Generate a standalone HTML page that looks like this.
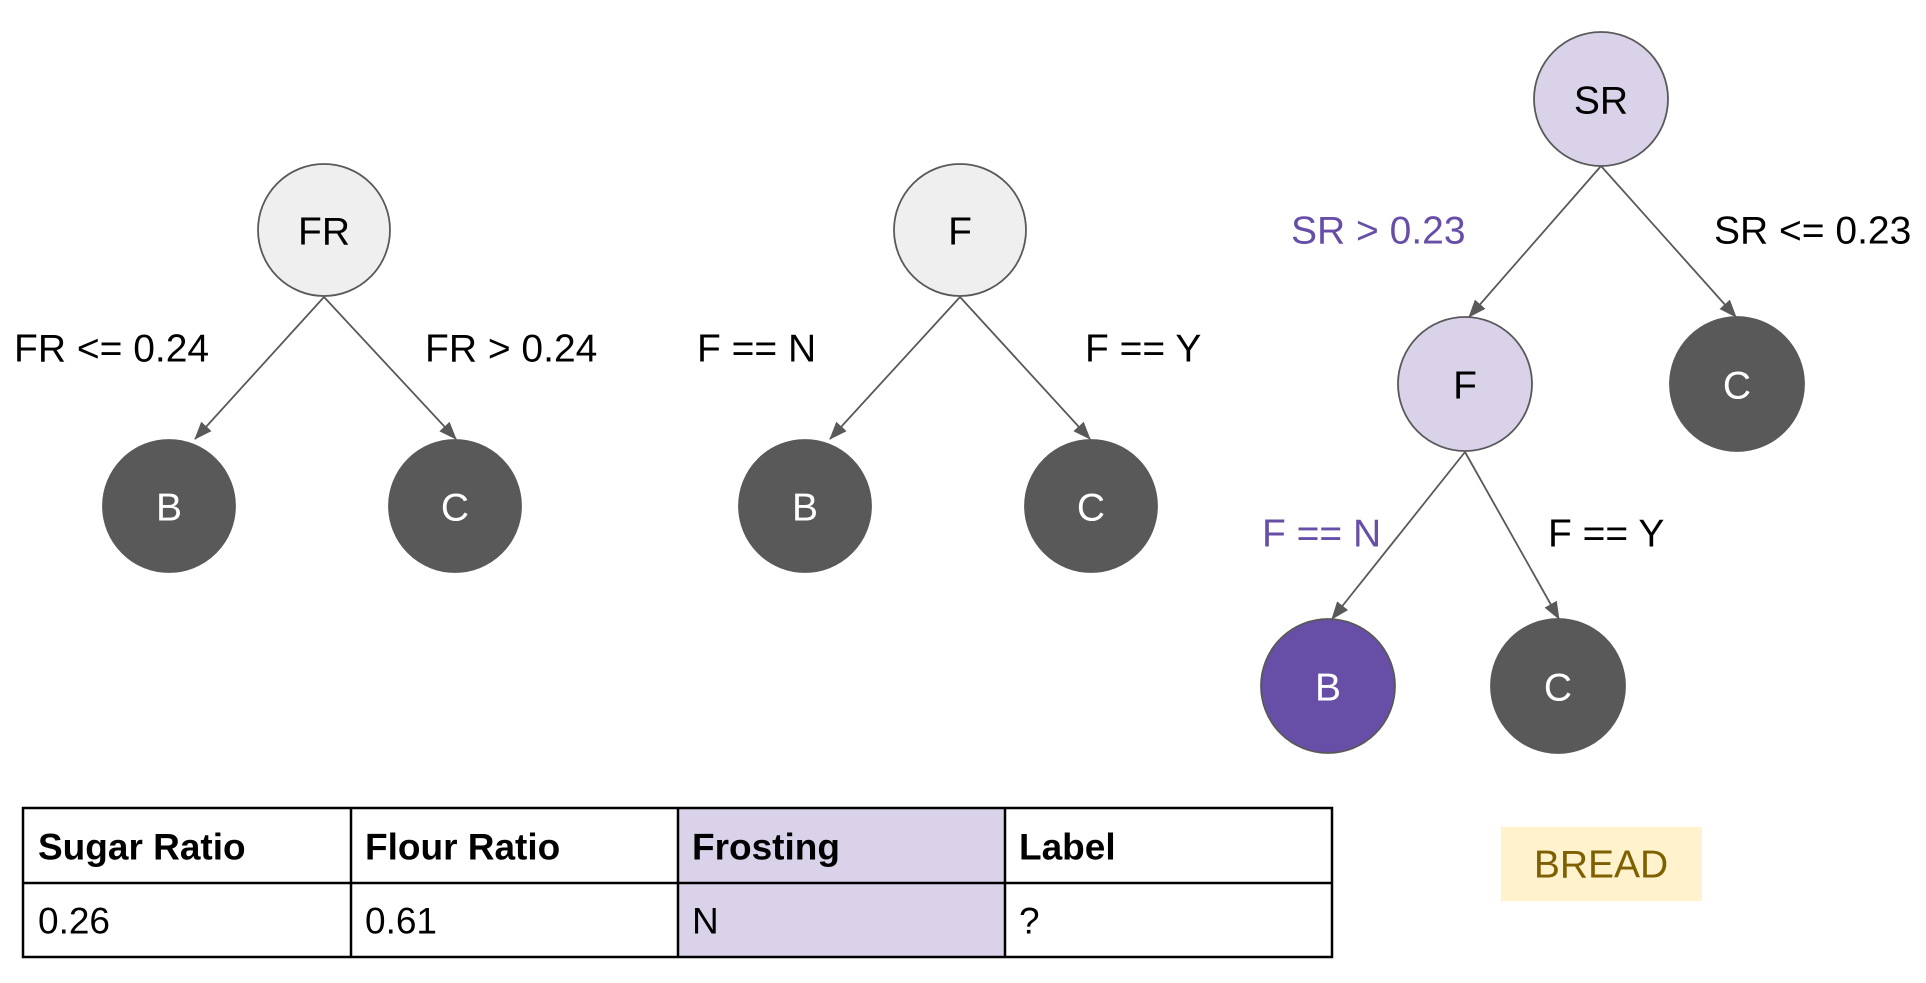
<!DOCTYPE html>
<html><head><meta charset="utf-8"><style>
body{margin:0;background:#fff;width:1926px;height:978px;overflow:hidden;font-family:"Liberation Sans",sans-serif}
</style></head><body>
<svg width="1926" height="978" viewBox="0 0 1926 978" xmlns="http://www.w3.org/2000/svg" font-family="Liberation Sans, sans-serif">
<defs>
<marker id="ah" markerWidth="18" markerHeight="14" refX="17" refY="7" orient="auto" markerUnits="userSpaceOnUse" viewBox="0 0 18 14"><path d="M0,0 L18,7 L0,14 z" fill="#595959"/></marker></defs>
<g stroke="#595959" stroke-width="1.8" marker-end="url(#ah)">
<line x1="324" y1="297" x2="195" y2="439"/><line x1="324" y1="297" x2="456" y2="439"/>
<line x1="960" y1="297" x2="830" y2="439"/><line x1="960" y1="297" x2="1090" y2="439"/>
<line x1="1601" y1="166" x2="1469" y2="317"/><line x1="1601" y1="166" x2="1736" y2="317"/>
<line x1="1465" y1="452" x2="1332" y2="619"/><line x1="1465" y1="452" x2="1559" y2="619"/>
</g>
<g stroke="#595959" stroke-width="1.8">
<circle cx="324" cy="230" r="66" fill="#efefef"/>
<circle cx="169" cy="506" r="66" fill="#595959"/>
<circle cx="455" cy="506" r="66" fill="#595959"/>
<circle cx="960" cy="230" r="66" fill="#efefef"/>
<circle cx="805" cy="506" r="66" fill="#595959"/>
<circle cx="1091" cy="506" r="66" fill="#595959"/>
<circle cx="1601" cy="99" r="67" fill="#d9d2e9"/>
<circle cx="1465" cy="384" r="67" fill="#d9d2e9"/>
<circle cx="1737" cy="384" r="67" fill="#595959"/>
<circle cx="1328" cy="686" r="67" fill="#674ea7"/>
<circle cx="1558" cy="686" r="67" fill="#595959"/>
</g>
<g font-size="39" text-anchor="middle" dominant-baseline="central">
<text x="324" y="232">FR</text><text x="169" y="508" fill="#fff">B</text><text x="455" y="508" fill="#fff">C</text>
<text x="960" y="232">F</text><text x="805" y="508" fill="#fff">B</text><text x="1091" y="508" fill="#fff">C</text>
<text x="1601" y="101">SR</text><text x="1465" y="386">F</text><text x="1737" y="386" fill="#fff">C</text>
<text x="1328" y="688" fill="#fff">B</text><text x="1558" y="688" fill="#fff">C</text>
</g>
<g font-size="39" dominant-baseline="central">
<text x="14" y="349">FR &lt;= 0.24</text>
<text x="425" y="349">FR &gt; 0.24</text>
<text x="697" y="349">F == N</text>
<text x="1085" y="349">F == Y</text>
<text x="1291" y="231" fill="#674ea7">SR &gt; 0.23</text>
<text x="1714" y="231">SR &lt;= 0.23</text>
<text x="1262" y="534" fill="#674ea7">F == N</text>
<text x="1548" y="534">F == Y</text>
</g>
<rect x="678" y="808" width="327" height="149" fill="#d9d2e9"/>
<g stroke="#000" stroke-width="2.5" fill="none">
<rect x="23" y="808" width="1309" height="149"/>
<line x1="23" y1="883" x2="1332" y2="883"/>
<line x1="351" y1="808" x2="351" y2="957"/><line x1="678" y1="808" x2="678" y2="957"/><line x1="1005" y1="808" x2="1005" y2="957"/>
</g>
<g font-size="37" dominant-baseline="central">
<g font-weight="bold"><text x="38" y="847">Sugar Ratio</text><text x="365" y="847">Flour Ratio</text><text x="692" y="847">Frosting</text><text x="1019" y="847">Label</text></g>
<text x="38" y="921">0.26</text><text x="365" y="921">0.61</text><text x="692" y="921">N</text><text x="1019" y="921">?</text>
</g>
<rect x="1501" y="827" width="201" height="74" fill="#fff2cc"/>
<text x="1601" y="865" font-size="39" fill="#7f6000" text-anchor="middle" dominant-baseline="central">BREAD</text>
</svg>
</body></html>
